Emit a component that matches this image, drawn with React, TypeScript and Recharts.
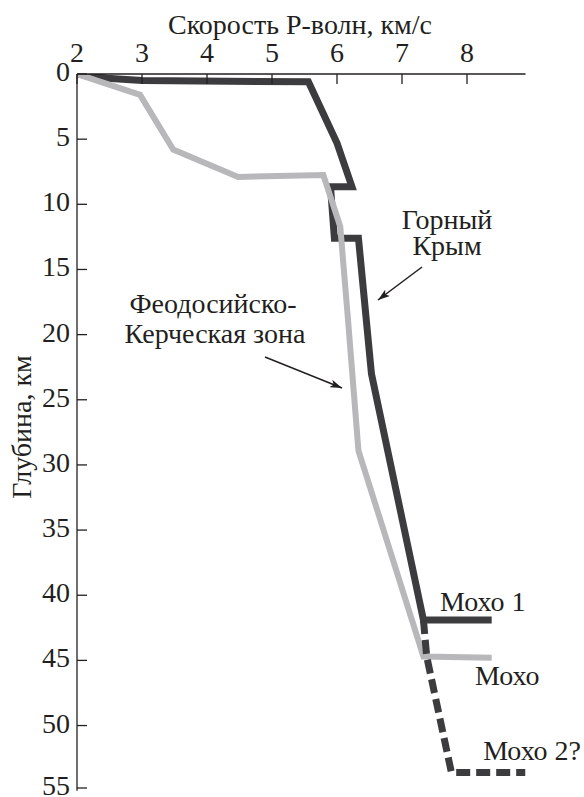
import { LineChart, Line, XAxis, YAxis, Customized } from 'recharts';

const FONT = 'Liberation Serif';
const INK = '#231f20';
const DARK = '#3c3c3e';
const LIGHT = '#b8b8ba';

// оси
const velocityTicks = [2, 3, 4, 5, 6, 7, 8];
const depthTicks = [0, 5, 10, 15, 20, 25, 30, 35, 40, 45, 50, 55];

// Горный Крым (сплошная тёмная линия, до Мохо 1)
const gornyVel = [2.0, 2.46, 3.0, 5.56, 6.0, 6.23, 5.9, 5.96, 6.33, 6.53, 7.33, 8.38];
const gornyDepth = [0, 0.33, 0.5, 0.6, 5.3, 8.65, 8.65, 12.6, 12.6, 23, 41.9, 41.9];

// продолжение до Мохо 2? (пунктир)
const moho2Vel = [7.33, 7.38, 7.76, 8.9];
const moho2Depth = [41.9, 44.7, 53.6, 53.6];

// Феодосийско-Керченская зона (светлая линия)
const feoVel = [2.0, 2.97, 3.48, 4.48, 5.79, 6.05, 6.17, 6.33, 7.33, 8.38];
const feoDepth = [0, 1.6, 5.8, 7.9, 7.75, 11.7, 18.9, 28.9, 44.7, 44.8];

const toPoints = (vel: number[], depth: number[]) =>
  vel.map((v, i) => ({ v, d: depth[i] }));

const gornyData = toPoints(gornyVel, gornyDepth);
const moho2Data = toPoints(moho2Vel, moho2Depth);
const feoData = toPoints(feoVel, feoDepth);

const textStyle = { fontFamily: FONT, fontSize: 28 };

// тики внутрь графика
const XTick = (props: any) => {
  const { x, y, payload } = props;
  return (
    <g>
      <line x1={x} x2={x} y1={y} y2={y + 10} stroke={INK} strokeWidth={1.3} />
      <text x={x} y={y - 12} textAnchor="middle" fill={INK} style={textStyle}>
        {payload.value}
      </text>
    </g>
  );
};

const YTick = (props: any) => {
  const { x, y, payload } = props;
  return (
    <g>
      <line x1={x} x2={x + 10} y1={y} y2={y} stroke={INK} strokeWidth={1.3} />
      <text x={x - 7} y={y + 7} textAnchor="end" fill={INK} style={textStyle}>
        {payload.value}
      </text>
    </g>
  );
};

const Annotations = () => (
  <g fill={INK} style={textStyle}>
    <defs>
      <marker id="arrow" viewBox="0 0 12 8" refX="12" refY="4" markerWidth="12" markerHeight="8" markerUnits="userSpaceOnUse" orient="auto">
        <path d="M0,0 L12,4 L0,8 L3,4 Z" fill={INK} />
      </marker>
    </defs>
    <text x={300} y={34} textAnchor="middle">Скорость P-волн, км/с</text>
    <text x={31} y={427} textAnchor="middle" transform="rotate(-90, 31, 427)">Глубина, км</text>

    <text x={447} y={229} textAnchor="middle">Горный</text>
    <text x={447} y={255} textAnchor="middle">Крым</text>
    <line x1={422} y1={267} x2={378} y2={300} stroke={INK} strokeWidth={1.5} markerEnd="url(#arrow)" />

    <text x={213} y={313} textAnchor="middle">Феодосийско-</text>
    <text x={215} y={343} textAnchor="middle">Керческая зона</text>
    <line x1={265} y1={357} x2={342} y2={388} stroke={INK} strokeWidth={1.5} markerEnd="url(#arrow)" />

    <text x={440} y={611}>Мохо 1</text>
    <text x={475} y={685}>Мохо</text>
    <text x={581} y={760} textAnchor="end">Мохо 2?</text>
  </g>
);

export default function App() {
  return (
    <div style={{ position: 'fixed', left: 0, top: 0, background: '#fff' }}>
      <LineChart width={584} height={797} margin={{ top: 34, right: 58.5, bottom: 6.3, left: 27 }}>
        <XAxis
          type="number"
          dataKey="v"
          orientation="top"
          domain={[2, 8.9]}
          ticks={velocityTicks}
          allowDataOverflow
          height={40}
          tickSize={0}
          tickMargin={0}
          tickLine={false}
          axisLine={{ stroke: INK, strokeWidth: 1.3 }}
          tick={<XTick />}
        />
        <YAxis
          type="number"
          dataKey="d"
          domain={[0, 55]}
          reversed
          ticks={depthTicks}
          allowDataOverflow
          width={50}
          tickSize={0}
          tickMargin={0}
          tickLine={false}
          axisLine={{ stroke: INK, strokeWidth: 1.3 }}
          tick={<YTick />}
        />
        <Line data={gornyData} dataKey="d" type="linear" stroke={DARK} strokeWidth={7} dot={false} isAnimationActive={false} />
        <Line data={feoData} dataKey="d" type="linear" stroke={LIGHT} strokeWidth={6} dot={false} isAnimationActive={false} />
        <Line data={moho2Data} dataKey="d" type="linear" stroke={DARK} strokeWidth={7} strokeDasharray="14 6" dot={false} isAnimationActive={false} />
        <Customized component={Annotations} />
      </LineChart>
    </div>
  );
}
